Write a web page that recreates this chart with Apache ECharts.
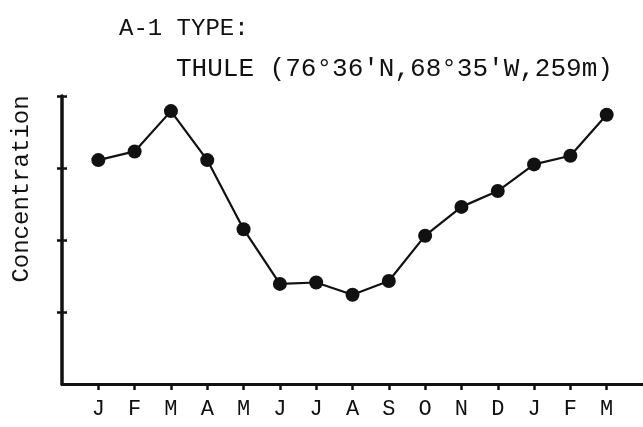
<!DOCTYPE html>
<html>
<head>
<meta charset="utf-8">
<script src="https://cdn.jsdelivr.net/npm/echarts@6/dist/echarts.min.js"></script>
<style>
    html, body { margin: 0; padding: 0; background: #fff; }
    #chart { width: 643px; height: 427px; }
</style>
</head>
<body>
<div id="chart"></div>
<script>
// 月份 (15 个月)
const months = ["J", "F", "M", "A", "M", "J", "J", "A", "S", "O", "N", "D", "J", "F", "M"];
// 浓度 (相对刻度，0-4)
const concentration = [3.11, 3.23, 3.79, 3.11, 2.15, 1.39, 1.41, 1.24, 1.43, 2.06, 2.46, 2.68, 3.05, 3.17, 3.74];
const yTicks = [1, 2, 3, 4];

const titleMain = "A-1 TYPE:";
const titleSub = "THULE (76°36'N,68°35'W,259m)";
const yName = "Concentration";

const FONT = "'Liberation Mono', 'DejaVu Sans Mono', monospace";
const INK = "#111";

const chart = echarts.init(document.getElementById("chart"));
const xTicks = months.map((m, i) => i);

chart.setOption({
    animation: false,
    backgroundColor: "#fff",
    title: [
        { text: titleMain, left: 114, top: 12, textStyle: { fontFamily: FONT, fontSize: 24, fontWeight: "normal", color: INK } },
        { text: titleSub, left: 171, top: 51, textStyle: { fontFamily: FONT, fontSize: 26, fontWeight: "normal", color: INK } },
    ],
    // 纵轴标题放在偏上的位置
    graphic: [{
        type: "text",
        x: 22,
        y: 189,
        rotation: Math.PI / 2,
        style: {
            text: yName,
            font: "24px " + FONT,
            fill: INK,
            align: "center",
            verticalAlign: "middle",
        },
    }],
    grid: { left: 62, right: 0, top: 96, bottom: 43 },
    xAxis: {
        type: "value",
        min: -1,
        max: 15,
        interval: 1,
        splitLine: { show: false },
        axisLine: { onZero: false, lineStyle: { color: INK, width: 3 } },
        axisTick: { customValues: xTicks, length: 6, lineStyle: { color: INK, width: 2.5 } },
        axisLabel: {
            customValues: xTicks,
            formatter: (v) => months[v] || "",
            fontFamily: FONT, fontSize: 22, color: INK, margin: 14,
        },
    },
    yAxis: [
        {
            type: "value",
            min: 0,
            max: 4,
            interval: 1,
            splitLine: { show: false },
            axisLine: { onZero: false, lineStyle: { color: INK, width: 3.5 } },
            axisTick: { customValues: yTicks, length: 5, lineStyle: { color: INK, width: 2.5 } },
            axisLabel: { show: false },
        },
        {
            // 刻度线向内的一半，组成十字刻度
            type: "value",
            min: 0,
            max: 4,
            interval: 1,
            position: "left",
            splitLine: { show: false },
            axisLine: { show: false, onZero: false },
            axisTick: { inside: true, customValues: yTicks, length: 5, lineStyle: { color: INK, width: 2.5 } },
            axisLabel: { show: false },
        },
    ],
    series: [{
        type: "line",
        data: concentration.map((v, i) => [i, v]),
        symbol: "circle",
        symbolSize: 14,
        lineStyle: { color: INK, width: 2.2 },
        itemStyle: { color: INK },
    }],
});
</script>
</body>
</html>
